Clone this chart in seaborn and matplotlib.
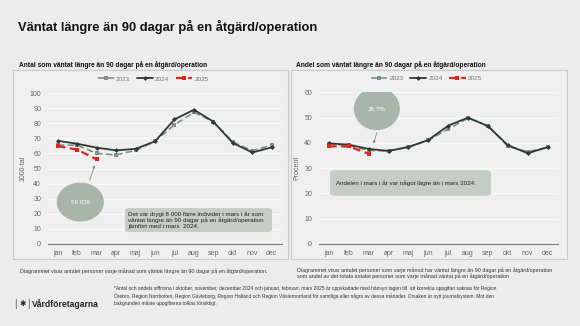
import matplotlib
matplotlib.use("Agg")
import matplotlib.pyplot as plt
import seaborn as sns
import pandas as pd
from matplotlib.patches import Ellipse, FancyBboxPatch, Rectangle

months = ["jan", "feb", "mar", "apr", "maj", "jun", "jul", "aug", "sep", "okt", "nov", "dec"]

antal_2023 = [65.5, 65.5, 60.0, 59.0, 62.0, 68.0, 79.0, 87.2, 81.0, 67.5, 61.8, 65.5]
antal_2024 = [68.3, 66.4, 63.8, 62.0, 63.0, 68.0, 82.5, 88.9, 81.0, 66.9, 60.6, 64.0]
antal_2025 = [64.8, 62.5, 56.026]

andel_2023 = [39.4, 39.0, 37.0, 36.8, 38.3, 41.0, 45.5, 49.8, 46.8, 38.6, 36.5, 38.2]
andel_2024 = [39.8, 39.3, 37.6, 36.8, 38.4, 41.1, 46.8, 50.0, 46.6, 39.1, 35.9, 38.3]
andel_2025 = [38.6, 38.6, 35.7]

years = ["2023", "2024", "2025"]

BG = "#ececec"
C23 = "#7d9186"
C24 = "#2f3a33"
C25 = "#e2231a"

sns.set_theme(style="white")
plt.rcParams["font.family"] = ["Liberation Sans", "DejaVu Sans"]

fig = plt.figure(figsize=(5.8, 3.26), dpi=100)
fig.patch.set_facecolor(BG)
W, H = 580, 326

def fx(px):
    return px / W

def fy(py):
    return 1 - py / H

# panel boxes
for x0, x1 in [(13, 288), (291, 567)]:
    fig.patches.append(Rectangle((fx(x0), fy(259)), fx(x1 - x0), (259 - 70) / H,
                                 transform=fig.transFigure, facecolor="#efefef",
                                 edgecolor="#c9c9c9", lw=0.8, zorder=-5))

fig.text(fx(18), fy(27), "Väntat längre än 90 dagar på en åtgärd/operation",
         fontsize=9.3, fontweight="bold", color="#111111", va="center")
fig.text(fx(19), fy(65), "Antal som väntat längre än 90 dagar på en åtgärd/operation",
         fontsize=4.75, fontweight="bold", color="#111111", va="center")
fig.text(fx(296.5), fy(65), "Andel som väntat längre än 90 dagar på en åtgärd/operation",
         fontsize=4.75, fontweight="bold", color="#111111", va="center")


def make_axes(left_px, right_px, top_px, bottom_px):
    ax = fig.add_axes([fx(left_px), fy(bottom_px), (right_px - left_px) / W,
                       (bottom_px - top_px) / H])
    ax.set_facecolor("none")
    ax.set_zorder(2)
    return ax


def draw(ax, s23, s24, s25, ymax, ystep):
    df23 = pd.DataFrame({"m": range(12), "v": s23})
    df24 = pd.DataFrame({"m": range(12), "v": s24})
    df25 = pd.DataFrame({"m": range(len(s25)), "v": s25})
    sns.lineplot(data=df23, x="m", y="v", ax=ax, color=C23, lw=1.2, ls=(0, (4, 2)),
                 marker="s", markersize=2.5, markeredgewidth=0, label=years[0])
    sns.lineplot(data=df24, x="m", y="v", ax=ax, color=C24, lw=1.3, ls="-",
                 marker="D", markersize=2.5, markeredgewidth=0, label=years[1])
    sns.lineplot(data=df25, x="m", y="v", ax=ax, color=C25, lw=1.6, ls=(0, (3.5, 2)),
                 marker="s", markersize=2.5, markeredgewidth=0, label=years[2])
    ax.set_xlim(-0.5, 11.5)
    ax.set_ylim(0, ymax)
    ax.set_yticks(range(0, ymax + 1, ystep))
    ax.set_xticks(range(12))
    ax.set_xticklabels(months)
    ax.tick_params(axis="both", labelsize=5, colors="#666666", length=0, pad=5)
    ax.tick_params(axis="x", pad=4)
    ax.grid(axis="y", color="#f9f9f9", lw=0.9)
    for s in ["top", "right", "left"]:
        ax.spines[s].set_visible(False)
    ax.spines["bottom"].set_color("#777777")
    ax.spines["bottom"].set_linewidth(0.8)
    ax.set_xlabel("")
    leg = ax.legend(loc="upper center", bbox_to_anchor=(0.45, 1.15), ncol=3, frameon=False,
                    fontsize=4.6, handlelength=2.6, columnspacing=1.0, handletextpad=0.3)
    for t in leg.get_texts():
        t.set_color("#777777")


axL = make_axes(48, 281.5, 93, 244)
draw(axL, antal_2023, antal_2024, antal_2025, 100, 10)
axL.set_ylabel("1000-tal", fontsize=5, color="#666666", labelpad=2)

axR = make_axes(319, 557.5, 92.3, 244)
draw(axR, andel_2023, andel_2024, andel_2025, 60, 10)
axR.set_ylabel("Procent", fontsize=5, color="#666666", labelpad=3)

ELL = "#a7b5ab"
BOX = "#c4cdc6"

# left annotations
axL.add_patch(Ellipse((1.16, 27.8), 2.42, 25.8, facecolor=ELL, edgecolor="none", zorder=5))
axL.text(1.16, 27.8, "56 026", fontsize=4.5, color="white", ha="center", va="center", zorder=6)
axL.annotate("", xy=(1.95, 54.0), xytext=(1.6, 40.6),
             arrowprops=dict(arrowstyle="-|>", color="#8a8a8a", lw=0.6, mutation_scale=3.5), zorder=6)
axL.add_patch(FancyBboxPatch((3.46, 7.9), 7.55, 15.9,
                             boxstyle="round,pad=0,rounding_size=0.25", mutation_aspect=5,
                             facecolor=BOX, edgecolor="none", zorder=5))
axL.text(3.62, 15.7, "Det var drygt 8 000 färre individer i mars i år som\n"
         "väntat längre än 90 dagar på en åtgärd/operation\njämfört med i mars  2024.",
         fontsize=4.5, color="#222222", ha="left", va="center", linespacing=1.15, zorder=6)

# right annotations
axR.add_patch(Ellipse((2.41, 53.5), 2.31, 17.0, facecolor=ELL, edgecolor="none", zorder=5))
axR.text(2.41, 53.5, "35,7%", fontsize=4.5, color="white", ha="center", va="center", zorder=6)
axR.annotate("", xy=(2.2, 38.6), xytext=(2.45, 45.0),
             arrowprops=dict(arrowstyle="-|>", color="#8a8a8a", lw=0.6, mutation_scale=3.5), zorder=6)
axR.add_patch(FancyBboxPatch((0.05, 19.05), 8.1, 10.15,
                             boxstyle="round,pad=0,rounding_size=0.3", mutation_aspect=3.5,
                             facecolor=BOX, edgecolor="none", zorder=5))
axR.text(0.34, 24.1, "Andelen i mars i år var något lägre än i mars 2024.",
         fontsize=4.5, color="#222222", ha="left", va="center", zorder=6)

# footnotes
fig.text(fx(20), fy(271), "Diagrammet visar antalet personer varje månad som väntat längre än 90 dagar på en åtgärd/operation.",
         fontsize=3.9, color="#333333", va="center")
fig.text(fx(297), fy(273), "Diagrammet visar antalet personer som varje månad har väntat längre än 90 dagar på en åtgärd/operation\n"
         "som andel av det totala antalet personer som varje månad väntat på en åtgärd/operation",
         fontsize=3.9, color="#333333", va="center", linespacing=1.2)
fig.text(fx(114), fy(296), "*Antal och andels siffrorna i oktober, november, december 2024 och januari, februari, mars 2025 är uppskattade med hänsyn tagen till  att korrekta uppgifter saknas för Region\n"
         "Örebro, Region Norrbotten, Region Gävleborg, Region Halland och Region Västernorrland för samtliga eller några av dessa månader. Orsaken är nytt journalsystem. Mot den\n"
         "bakgrunden måste uppgifterna tolkas försiktigt.",
         fontsize=3.5, color="#333333", va="center", linespacing=1.3)
fig.text(fx(14), fy(304), "|", fontsize=7, color="#555555", va="center")
fig.text(fx(19), fy(304), "✱", fontsize=5.5, color="#222222", va="center", family=["DejaVu Sans"])
fig.text(fx(27), fy(304), "|", fontsize=7, color="#555555", va="center")
fig.text(fx(31.5), fy(304), "Vårdföretagarna", fontsize=6.2, fontweight="bold", color="#222222", va="center")

fig.savefig("out.png", dpi=100, facecolor=BG)
